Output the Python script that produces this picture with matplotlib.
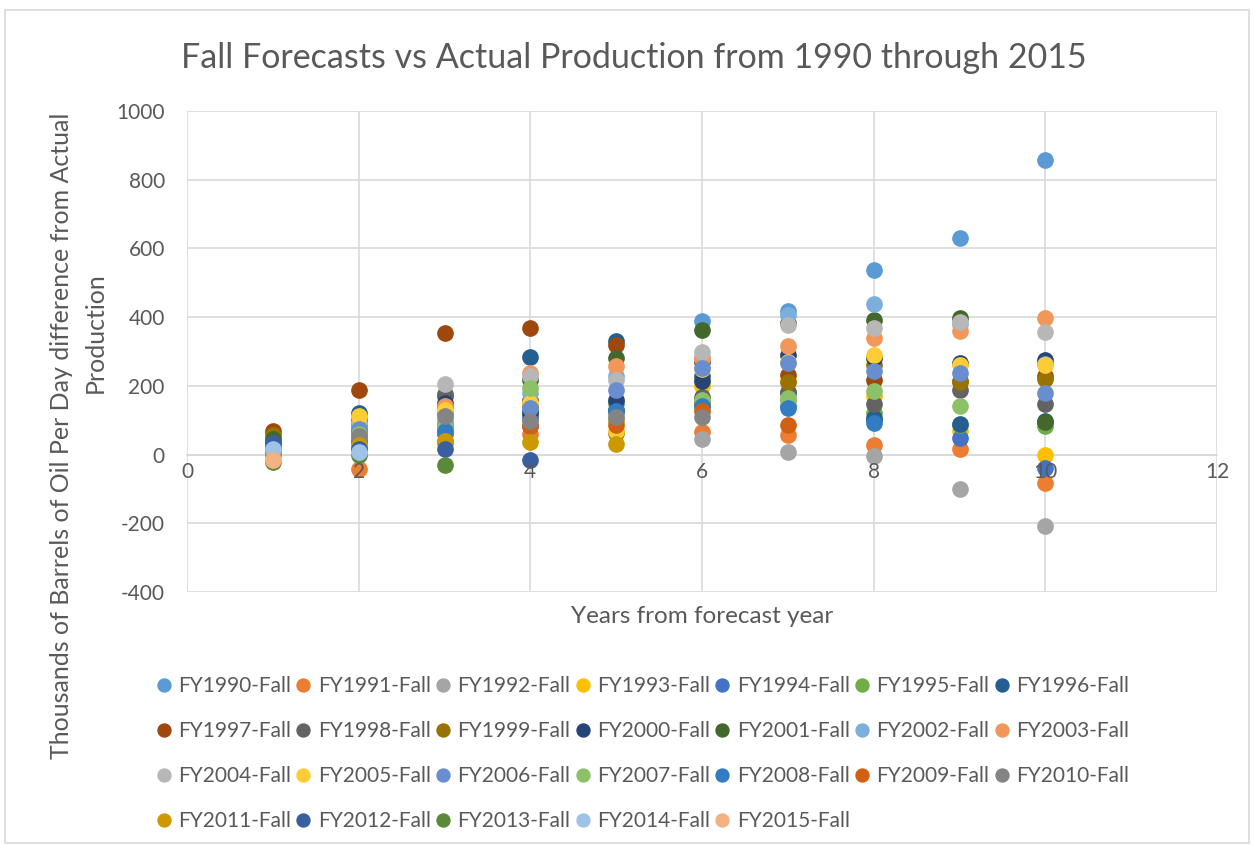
import numpy as np
import matplotlib
matplotlib.use("Agg")
from matplotlib import pyplot as plt
from matplotlib.patches import Rectangle
from matplotlib.transforms import offset_copy

nan = np.nan

# Years from forecast year
years = [1, 2, 3, 4, 5, 6, 7, 8, 9, 10]

# Forecast minus actual production (thousand bbl/day), one list per fall forecast
fy1990 = [20, 60, 80, 130, 150, 388, 417, 536, 631, 858]
fy1991 = [5, -42, 35, 60, 100, 65, 56, 29, 15, -82]
fy1992 = [10, 30, 90, 100, 120, 44, 8, -5, -100, -209]
fy1993 = [15, 110, 130, 140, 100, 200, 215, 170, 68, 0]
fy1994 = [10, 60, 60, 110, 130, 140, 140, 100, 48, -39]
fy1995 = [20, 50, 70, 120, 150, 160, 160, 122, 85, 82]
fy1996 = [25, 121, 170, 284, 330, 228, 181, 107, 90, 99]
fy1997 = [68, 189, 354, 369, 320, 270, 233, 218, 215, 228]
fy1998 = [40, 100, 175, 160, 130, 168, 180, 146, 189, 146]
fy1999 = [58, 80, 120, 140, 63, 150, 210, 262, 210, 220]
fy2000 = [30, 90, 150, 120, 160, 213, 291, 282, 267, 274]
fy2001 = [45, 70, 141, 216, 281, 362, 384, 391, 398, 95]
fy2002 = [30, 80, 100, 180, 230, 280, 407, 437, 380, 265]
fy2003 = [20, 40, 140, 238, 257, 281, 317, 340, 359, 398]
fy2004 = [10, 92, 204, 230, 218, 298, 378, 369, 385, 356]
fy2005 = [20, 112, 130, 151, 70, 250, 270, 291, 260, 260]
fy2006 = [15, 73, 87, 136, 189, 252, 267, 243, 236, 180]
fy2007 = [10, 60, 80, 194, 100, 160, 165, 184, 141, nan]
fy2008 = [25, 40, 68, 82, 126, 141, 136, 92, nan, nan]
fy2009 = [10, 20, 39, 82, 87, 126, 87, nan, nan, nan]
fy2010 = [5, 53, 113, 97, 110, 110, nan, nan, nan, nan]
fy2011 = [0, 29, 39, 36, 32, nan, nan, nan, nan, nan]
fy2012 = [34, 15, 15, -17, nan, nan, nan, nan, nan, nan]
fy2013 = [-22, 0, -29, nan, nan, nan, nan, nan, nan, nan]
fy2014 = [15, 7, nan, nan, nan, nan, nan, nan, nan, nan]
fy2015 = [-15, nan, nan, nan, nan, nan, nan, nan, nan, nan]

series = [fy1990, fy1991, fy1992, fy1993, fy1994, fy1995, fy1996, fy1997,
          fy1998, fy1999, fy2000, fy2001, fy2002, fy2003, fy2004, fy2005,
          fy2006, fy2007, fy2008, fy2009, fy2010, fy2011, fy2012, fy2013,
          fy2014, fy2015]
labels = ["FY%d-Fall" % y for y in range(1990, 2016)]
xticks = [0, 2, 4, 6, 8, 10, 12]
yticks = [-400, -200, 0, 200, 400, 600, 800, 1000]

# office style series colours
colors = ["#5B9BD5", "#ED7D31", "#A5A5A5", "#FFC000", "#4472C4", "#70AD47",
          "#255E91", "#9E480E", "#636363", "#997300", "#264478", "#43682B",
          "#7CAFDD", "#F1975A", "#B7B7B7", "#FFCD33", "#698ED0", "#8CC168",
          "#327DC2", "#D26012", "#848484", "#CC9A00", "#3A5FA0", "#5A8A39",
          "#9DC3E6", "#F4B183"]

plt.rcParams['font.family'] = ['Lato', 'DejaVu Sans']
plt.rcParams['axes.unicode_minus'] = False
txt = "#595959"
grid = "#D9D9D9"
W, H = 1254, 846

fig = plt.figure(figsize=(12.54, 8.46), dpi=100)
ax = fig.add_axes([187/W, 1 - 592/H, 1030/W, 481/H])

handles = []
for vals, lab, c in zip(series, labels, colors):
    h, = ax.plot(years, vals, 'o', ms=11, color=c, label=lab, zorder=3)
    handles.append(h)

ax.set_xlim(0, 12)
ax.set_ylim(-400, 1000)
ax.set_xticks(xticks)
ax.set_yticks(yticks)
ax.grid(True, color=grid, lw=1.2, zorder=0)
for s in ['top', 'right', 'left']:
    ax.spines[s].set_visible(False)
ax.spines['bottom'].set_position(('data', 0))
ax.spines['bottom'].set_color(grid)
ax.spines['bottom'].set_linewidth(1.2)
ax.tick_params(length=0, labelsize=15, colors=txt)
ax.tick_params(axis='y', pad=16)
ax.tick_params(axis='x', labelbottom=False)

# x tick labels sit on the zero line, drawn above the markers
below = offset_copy(ax.transData, fig=fig, x=0, y=-5, units='points')
for t in xticks:
    ax.text(t, 0, str(t), transform=below, ha='center', va='top',
            fontsize=15, color=txt, zorder=5, clip_on=False)

ax.set_xlabel("Years from forecast year", fontsize=17.5, color=txt)
ax.xaxis.set_label_coords(0.5, -0.03)

# y axis title, wrapped over two lines
fig.text(62/W, 1 - 436/H,
         "Thousands of Barrels of Oil Per Day difference from Actual",
         rotation=90, ha='center', va='center', fontsize=18, color=txt)
fig.text(95/W, 1 - 333/H, "Production",
         rotation=90, ha='center', va='center', fontsize=18, color=txt)

fig.text(634/W, 1 - 58/H, "Fall Forecasts vs Actual Production from 1990 through 2015",
         ha='center', va='center', fontsize=24.5, color=txt)

# legend fills row by row, matplotlib fills column by column
ncol, nrow = 7, 4
order = [r * ncol + c for c in range(ncol) for r in range(nrow) if r * ncol + c < len(handles)]
fig.legend(handles=[handles[i] for i in order], loc='upper left',
           bbox_to_anchor=(149/W, 1 - 668/H),
           ncol=ncol, frameon=False, fontsize=15, markerscale=0.85,
           handlelength=0.6, handletextpad=0.4, columnspacing=0.28,
           labelspacing=1.2, labelcolor=txt, borderaxespad=0)

# chart border
fig.patches.append(Rectangle((0.004, 0.004), 0.992, 0.984, transform=fig.transFigure,
                             fill=False, edgecolor=grid, lw=1.2))

fig.savefig("out.png", dpi=100)
